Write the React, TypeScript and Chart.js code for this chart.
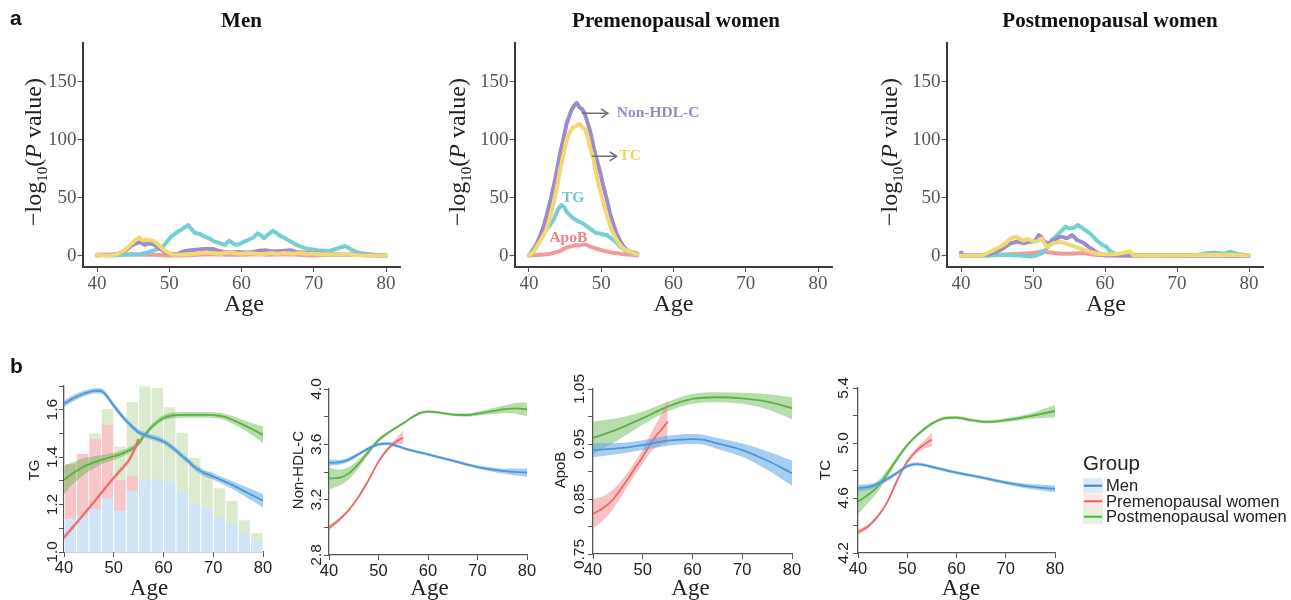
import React, { useEffect, useRef } from 'react';
import { Chart, registerables } from 'chart.js';
Chart.register(...registerables);

const SERIF = "'Liberation Serif','Times New Roman',serif";
const SANS = "'Liberation Sans',Arial,Helvetica,sans-serif";

// ---------------- Panel a: -log10(P) along age ----------------
const ageTicks = [40, 50, 60, 70, 80];
const pTicks = [0, 50, 100, 150];
const panelTitles = ['Men', 'Premenopausal women', 'Postmenopausal women'];
const lipidNames = ['TC', 'Non-HDL-C', 'TG', 'ApoB'];
const lipidColors = ['#f2d873', '#9d8bcb', '#74cfd1', '#f29a9b'];
const lipidTextColors = ['#efd064', '#9a88c9', '#6cc8cb', '#ee8284'];

const menTC = [[40,1],[41,0.5],[42,0.5],[43,2],[43.8,5],[44.5,9],[45.2,13],[45.8,16],[46.3,13.5],[46.8,14],[47.3,13.5],[47.8,13],[48.3,11],[48.8,8],[49.3,5],[49.8,3],[50.5,1],[51.5,1],[52.5,1.5],[53.5,2],[55,3],[56,2.5],[57,2],[58,3],[59,2.5],[60,2],[61,2.5],[62,2],[63,1.5],[64,2.5],[65,2],[66,2.5],[67,2],[68,2.5],[69,2],[70,2],[71,1.5],[72,1.5],[73,1],[75,1],[77,0.5],[78,0.5],[80,0.5]];
const menNonHDL = [[40,1],[42,1],[43,2],[44,5],[44.8,9],[45.5,11],[46,12],[46.6,9.5],[47.2,11],[47.8,10],[48.4,8],[49,5],[49.6,2.5],[50.5,1.5],[51.3,2],[52,4],[53,5],[54,5.5],[55,6],[56,6],[56.8,4.5],[57.5,3.5],[58.5,3],[59.5,3.5],[60.5,3],[61.5,3.5],[62.5,4.5],[63.3,5],[64,4],[65,4],[66,4.5],[66.8,5],[67.5,3.5],[68.5,3],[69.5,2.5],[71,2],[72.5,1.5],[74,1],[76,1],[78,0.5],[80,0.5]];
const menTG = [[40,1],[42,0.5],[44,1],[46,1.5],[47,3],[48,5],[49.1,8],[50.3,17],[51.2,21],[51.7,22.7],[52.6,26.7],[53.5,20.1],[54.2,19],[54.9,16.7],[55.6,15],[56.3,12.4],[57,11],[57.7,9.5],[58.3,13.2],[58.8,11],[59.2,9.5],[59.8,10.5],[60.4,12.4],[61,14],[61.7,16.1],[62.2,19.5],[62.7,18],[63.1,15.2],[63.7,18.5],[64.3,21.8],[64.8,20],[65.4,17.2],[66.1,15],[66.8,12.4],[67.5,10],[68.2,8.1],[68.9,6.5],[69.6,5.8],[70.5,5],[71.4,4.6],[72.3,4.5],[73.3,6.6],[73.8,7.5],[74.3,8.6],[74.8,7],[75.2,5.2],[75.9,3.5],[76.6,2.3],[77.5,1.5],[78.9,0.9],[80,0.5]];
const menApoB = [[40,0.5],[42,1],[43.5,1.5],[45,1.5],[46.5,1],[48,1],[50,0.5],[52,0.5],[54,1],[56,1.5],[58,1],[60,1],[62,1.5],[64,1],[66,1.5],[68,1],[70,0.5],[72,1],[74,1],[76,1.5],[77,2],[78,1],[80,0.5]];

const preTC = [[40,0.5],[40.7,4],[41.5,12.4],[42.4,22.4],[42.9,33],[43.4,45.4],[43.9,60],[44.3,74],[44.8,88],[45.2,100],[45.6,106],[46.1,111],[46.5,112],[47,114],[47.4,111],[47.8,108.6],[48.2,101],[48.5,92.8],[48.9,84],[49.2,74],[49.6,62],[50.1,51],[50.5,41],[51,31],[51.4,23],[51.9,16.7],[52.3,12],[52.8,8],[53.4,5],[54,3.7],[54.5,2.5],[55,1.5]];
const preNonHDL = [[40,0.5],[40.7,5],[41.5,16.7],[42,25],[42.4,33.9],[42.9,46],[43.4,59.8],[43.9,75],[44.3,88.5],[44.8,102],[45.2,114],[45.6,121],[45.9,126],[46.3,130],[46.6,132],[47,128],[47.3,127],[47.7,123],[48,117],[48.4,109],[48.7,101],[49,92],[49.4,82.8],[49.9,71],[50.3,59.8],[50.8,48],[51.2,36.8],[51.7,27],[52.1,19.5],[52.6,13],[53.1,8],[53.6,5],[54,3.7],[54.5,3],[55,2]];
const preTG = [[40,0.5],[40.8,8],[41.4,14],[42,19.5],[42.7,25],[43.4,31],[43.8,37],[44.1,41],[44.5,44],[44.9,42],[45.2,38],[45.7,35],[46.1,32.5],[46.8,30],[47.5,28],[48.1,25],[48.7,22.4],[49.2,20],[49.8,19.5],[50.3,18.5],[50.8,18],[51.2,16],[51.7,13.8],[52.2,11],[52.6,8],[53.1,6],[53.5,3.7],[54.2,2.5],[55,1.5]];
const preApoB = [[40,0.5],[41,0.8],[42,1.2],[43,2],[44,3.5],[44.8,6],[45.5,8],[46,8.5],[46.5,9.5],[47,9],[47.5,10],[48,9.5],[48.5,8],[49,7],[49.5,6],[50,5],[50.7,4],[51.3,3],[52,2.5],[52.8,1.8],[53.5,1.3],[54.3,1],[55,0.5]];

const postTC = [[40,0.5],[42,0.5],[43,0.5],[43.6,2.3],[44.5,5],[45.4,8],[46.2,11],[46.9,15.2],[47.7,16.7],[48.2,14.5],[48.7,13.2],[49.2,14.5],[49.6,13.8],[50.1,12.5],[50.5,12.4],[50.9,14],[51.2,15],[51.6,11],[51.9,8],[52.4,9.5],[52.8,11],[53.3,11.5],[53.7,12.4],[54.4,11],[55.1,9.5],[55.8,8],[56.5,6.6],[57.2,5],[57.9,3.7],[58.6,2.5],[59.3,1.7],[60.5,1.5],[61.6,1.7],[62.5,2.5],[63.5,3.7],[63.9,0.6],[66,0.5],[70,0.5],[74,0.8],[77,1],[80,0.5]];
const postNonHDL = [[40,3],[40.3,1],[42,0.5],[44,1.5],[45.4,5],[46.2,8],[46.9,11],[47.8,12.4],[48.7,11],[49.3,12],[49.9,12.4],[50.4,14],[50.8,18],[51.2,16],[51.5,12.4],[52.2,11],[52.9,13.8],[53.4,15.5],[53.8,16.7],[54.3,16],[54.7,15.2],[55.1,16.5],[55.4,18],[55.8,16],[56.1,13.8],[56.6,12.5],[57.1,11],[57.6,8.5],[58,6.6],[58.5,4.5],[58.9,2.9],[59.8,0.9],[62,0.5],[66,0.5],[70,0.3],[75,0.5],[80,0.3]];
const postTG = [[40,0.5],[44,0.5],[46,1],[48,0.5],[49.7,-0.5],[50.5,0.5],[51.2,2.5],[51.7,5],[52.2,9],[52.6,13.8],[53.2,17],[53.8,20.9],[54.2,23],[54.5,25.3],[55,24],[55.5,24],[55.9,25],[56.2,26.7],[56.6,25],[56.9,24],[57.4,21.5],[57.9,19.5],[58.4,16.5],[58.8,13.8],[59.2,11.5],[59.7,9.5],[60.2,8],[60.6,5],[61,3],[61.5,1.7],[62.5,0.8],[66,0.5],[70,0.5],[73,1],[74,2.3],[75,2.9],[75.7,2.5],[76.4,1.7],[77.4,3.7],[78.4,1.7],[80,0.5]];
const postApoB = [[40,0.3],[43,0.3],[44.5,0.8],[46,1.2],[47.5,1.8],[49,2.2],[50,2.5],[50.8,3.5],[51.3,4],[52,3.2],[53,2.5],[54,2],[55,2],[56,2.2],[57,2.5],[58,1.5],[59,0.8],[60,0.5],[65,0.5],[70,0.5],[75,0.5],[80,0.3]];

// annotation labels in premenopausal panel: [name, age, value]
const preLabels = [['Non-HDL-C', 52.14, 123], ['TC', 52.5, 85.9], ['TG', 46.1, 50.4], ['ApoB', 45.45, 15.9]];
const preArrows = [[47.29, 50.93, 123], [48.68, 52.14, 85.9]];

// ---------------- Panel b: lipid levels by age (mean, half-width of CI) ----------------
const groupNames = ['Men', 'Premenopausal women', 'Postmenopausal women'];
const groupLine = ['#3d82c6', '#e8615f', '#5aae45'];
const groupBand = ['rgba(92,166,228,0.55)', 'rgba(240,118,124,0.45)', 'rgba(98,180,70,0.45)'];
const histColors = ['#cfe4f6', '#f7c6c9', '#dcebd0'];

const tgMen = [[40,1.625,0.015],[42,1.65,0.013],[44,1.668,0.012],[46,1.679,0.012],[47,1.68,0.012],[48,1.672,0.012],[50,1.617,0.012],[52,1.565,0.012],[54,1.523,0.012],[55,1.505,0.012],[57,1.488,0.012],[60,1.466,0.012],[62,1.437,0.012],[64,1.4,0.012],[65,1.383,0.012],[66,1.362,0.012],[68,1.335,0.013],[70,1.318,0.013],[72,1.3,0.014],[74,1.281,0.016],[76,1.259,0.02],[78,1.238,0.024],[80,1.216,0.028]];
const tgPre = [[40,1.062,0.012],[42,1.11,0.01],[44,1.16,0.01],[46,1.21,0.01],[48,1.262,0.01],[50,1.313,0.01],[52,1.36,0.012],[53,1.385,0.013],[54,1.425,0.016],[55,1.477,0.02]];
const tgPost = [[40,1.305,0.06],[42,1.335,0.045],[44,1.36,0.035],[46,1.378,0.025],[48,1.392,0.018],[50,1.403,0.015],[52,1.418,0.013],[54,1.44,0.012],[55,1.458,0.012],[56,1.488,0.012],[57,1.512,0.012],[58,1.535,0.012],[60,1.565,0.012],[62,1.576,0.012],[65,1.578,0.012],[68,1.578,0.012],[70,1.577,0.012],[72,1.572,0.013],[74,1.556,0.016],[76,1.537,0.02],[78,1.516,0.026],[80,1.494,0.035]];

const nhMen = [[40,3.467,0.022],[42,3.47,0.018],[44,3.49,0.015],[46,3.53,0.012],[48,3.571,0.012],[50,3.6,0.012],[52,3.605,0.012],[54,3.585,0.01],[56,3.562,0.01],[60,3.528,0.01],[65,3.482,0.01],[70,3.436,0.012],[75,3.408,0.018],[80,3.395,0.03]];
const nhPre = [[40,2.998,0.02],[42,3.053,0.015],[44,3.125,0.013],[46,3.222,0.012],[48,3.342,0.012],[50,3.475,0.012],[52,3.571,0.015],[54,3.63,0.03],[55,3.648,0.05]];
const nhPost = [[40,3.354,0.08],[42,3.358,0.06],[44,3.39,0.045],[46,3.46,0.03],[48,3.547,0.02],[50,3.63,0.015],[52,3.685,0.012],[55,3.752,0.01],[58,3.82,0.01],[60,3.836,0.01],[62,3.831,0.01],[65,3.815,0.01],[68,3.812,0.012],[70,3.822,0.015],[73,3.84,0.02],[76,3.856,0.03],[78,3.86,0.04],[80,3.853,0.05]];

const apoMen = [[40,0.939,0.013],[45,0.942,0.01],[50,0.948,0.009],[55,0.956,0.009],[60,0.959,0.009],[62,0.958,0.009],[65,0.951,0.01],[70,0.939,0.012],[75,0.92,0.017],[80,0.897,0.023]];
const apoPre = [[40,0.823,0.027],[42,0.833,0.022],[44,0.849,0.018],[46,0.873,0.014],[48,0.9,0.012],[50,0.927,0.013],[52,0.957,0.018],[54,0.979,0.03],[55,0.991,0.04]];
const apoPost = [[40,0.961,0.03],[45,0.977,0.02],[50,0.997,0.012],[55,1.018,0.009],[60,1.032,0.009],[65,1.035,0.009],[70,1.033,0.01],[75,1.027,0.014],[80,1.015,0.02]];

const tcMen = [[40,4.671,0.025],[43,4.688,0.02],[45,4.72,0.017],[48,4.784,0.015],[50,4.832,0.013],[52,4.846,0.012],[55,4.827,0.012],[60,4.784,0.012],[65,4.75,0.012],[70,4.712,0.013],[75,4.683,0.018],[80,4.666,0.025]];
const tcPre = [[40,4.35,0.02],[42,4.393,0.015],[44,4.466,0.013],[46,4.574,0.013],[48,4.731,0.013],[50,4.864,0.015],[52,4.948,0.02],[54,5.001,0.035],[55,5.026,0.05]];
const tcPost = [[40,4.574,0.09],[42,4.622,0.06],[44,4.683,0.04],[46,4.779,0.03],[48,4.888,0.02],[50,4.985,0.015],[52,5.057,0.013],[55,5.141,0.012],[58,5.183,0.012],[60,5.185,0.012],[63,5.166,0.012],[66,5.154,0.012],[70,5.166,0.014],[75,5.195,0.02],[80,5.233,0.045]];

// age histogram (bin centres, bar tops on TG axis)
const histBins = [41.25, 43.75, 46.25, 48.75, 51.25, 53.75, 56.25, 58.75, 61.25, 63.75, 66.25, 68.75, 71.25, 73.75, 76.25, 78.75];
const histMen = [1.139, 1.154, 1.182, 1.227, 1.173, 1.259, 1.3, 1.307, 1.294, 1.252, 1.203, 1.185, 1.142, 1.117, 1.079, 1.044];
const histPre = [1.37, 1.413, 1.477, 1.537, 1.304, 1.321];
const histPost = [1.25, 1.41, 1.5, 1.603, 1.445, 1.632, 1.699, 1.692, 1.61, 1.504, 1.396, 1.34, 1.269, 1.215, 1.134, 1.079];

const tgTicks = [1.0, 1.1, 1.2, 1.3, 1.4, 1.5, 1.6, 1.7];
const tgLabels = [1.0, 1.2, 1.4, 1.6];
const nhTicks = [2.8, 3.0, 3.2, 3.4, 3.6, 3.8, 4.0];
const nhLabels = [2.8, 3.2, 3.6, 4.0];
const apoTicks = [0.75, 0.8, 0.85, 0.9, 0.95, 1.0, 1.05];
const apoLabels = [0.75, 0.85, 0.95, 1.05];
const tcTicks = [4.2, 4.4, 4.6, 4.8, 5.0, 5.2, 5.4];
const tcLabels = [4.2, 4.6, 5.0, 5.4];

// ---------------- helpers ----------------
type Box = [number, number, number, number];

function axis(o: any) {
  return {
    type: 'linear', min: o.min, max: o.max, offset: false,
    afterBuildTicks: (s: any) => { s.ticks = o.ticks.map((v: number) => ({ value: v })); },
    afterFit: (s: any) => { if (o.horizontal) s.height = o.size; else s.width = o.size; },
    ticks: { display: o.labels, font: o.font, color: o.color, padding: o.pad, autoSkip: false, maxRotation: 0, minRotation: 0, callback: (v: any) => String(v) },
    grid: { display: true, offset: false, drawOnChartArea: false, drawTicks: true, tickLength: o.tickLen, tickColor: o.tickColor, tickWidth: 1, color: o.tickColor },
    border: { display: true, color: o.lineColor, width: o.lineWidth },
  };
}

function txt(ctx: CanvasRenderingContext2D, s: string, x: number, y: number, font: string, color: string, align: CanvasTextAlign = 'center', base: CanvasTextBaseline = 'alphabetic', rot = 0) {
  ctx.save();
  ctx.translate(x, y);
  ctx.rotate(rot);
  ctx.font = font; ctx.fillStyle = color; ctx.textAlign = align; ctx.textBaseline = base;
  ctx.fillText(s, 0, 0);
  ctx.restore();
}

function rich(ctx: CanvasRenderingContext2D, parts: any[], x: number, y: number, rot: number) {
  ctx.save();
  ctx.translate(x, y); ctx.rotate(rot);
  ctx.textAlign = 'left'; ctx.textBaseline = 'alphabetic';
  let w = 0;
  parts.forEach((p) => { ctx.font = p.font; w += ctx.measureText(p.t).width; });
  let cx = -w / 2;
  parts.forEach((p) => { ctx.font = p.font; ctx.fillStyle = p.color; ctx.fillText(p.t, cx, p.dy || 0); cx += ctx.measureText(p.t).width; });
  ctx.restore();
}

function pts(a: number[][]) { return a.map((p) => ({ x: p[0], y: p[1] })); }

function layoutFor(box: Box, area: number[]) {
  return { padding: { left: 0, top: area[1] - box[1], right: box[0] + box[2] - area[2], bottom: 0 } };
}

// ---------------- top panels ----------------
const topBoxes: Box[] = [[0, 0, 430, 330], [430, 0, 430, 330], [860, 0, 431, 330]];
const topAreas = [[82.55, 43, 400.45, 267], [514.55, 43, 832.45, 267], [946.6, 43, 1263.4, 267]];
const topTitleX = [241.5, 676, 1110];
const topAgeX = [244, 673.5, 1106];
const topYTitleX = [41, 465, 897];
const topSeries = [[menTC, menNonHDL, menTG, menApoB], [preTC, preNonHDL, preTG, preApoB], [postTC, postNonHDL, postTG, postApoB]];

function topConfig(i: number) {
  const box = topBoxes[i], area = topAreas[i];
  const ox = box[0], oy = box[1];
  const tickFont = { family: SERIF, size: 19 };
  const decor = {
    id: 'decor' + i,
    afterDraw(chart: any) {
      const ctx = chart.ctx as CanvasRenderingContext2D;
      if (i === 0) txt(ctx, 'a', 10 - ox, 25 - oy, `bold 21px ${SANS}`, '#111', 'left');
      txt(ctx, panelTitles[i], topTitleX[i] - ox, 27 - oy, `bold 21px ${SERIF}`, '#111');
      txt(ctx, 'Age', topAgeX[i] - ox, 311 - oy, `24px ${SERIF}`, '#222');
      rich(ctx, [
        { t: '\u2212log', font: `24px ${SERIF}`, color: '#222' },
        { t: '10', font: `15px ${SERIF}`, color: '#222', dy: 6 },
        { t: '(', font: `24px ${SERIF}`, color: '#222' },
        { t: 'P', font: `italic 24px ${SERIF}`, color: '#222' },
        { t: ' value)', font: `24px ${SERIF}`, color: '#222' },
      ], topYTitleX[i] - ox, 152 - oy, -Math.PI / 2);
      if (i === 1) {
        const xs = chart.scales.x, ys = chart.scales.y;
        ctx.save();
        ctx.strokeStyle = '#707070'; ctx.lineWidth = 1.5;
        preArrows.forEach((a) => {
          const x1 = xs.getPixelForValue(a[0]), x2 = xs.getPixelForValue(a[1]), y = ys.getPixelForValue(a[2]);
          ctx.beginPath(); ctx.moveTo(x1, y); ctx.lineTo(x2, y);
          ctx.moveTo(x2 - 7, y - 4.5); ctx.lineTo(x2, y); ctx.lineTo(x2 - 7, y + 4.5);
          ctx.stroke();
        });
        ctx.restore();
        preLabels.forEach((l, k) => {
          const name = l[0] as string;
          const col = lipidTextColors[lipidNames.indexOf(name)];
          const x = xs.getPixelForValue(l[1] as number), y = ys.getPixelForValue(l[2] as number);
          txt(ctx, name, x, y, `bold 15.5px ${SERIF}`, col, k < 2 ? 'left' : 'center', 'middle');
        });
      }
    },
  };
  return {
    type: 'line',
    data: {
      datasets: topSeries[i].map((s, k) => ({
        label: lipidNames[k], data: pts(s), borderColor: lipidColors[k], borderWidth: 4,
        pointRadius: 0, tension: 0, fill: false, borderJoinStyle: 'round', borderCapStyle: 'round',
      })),
    },
    options: {
      responsive: false, animation: false, devicePixelRatio: 1,
      layout: layoutFor(box, area),
      plugins: { legend: { display: false }, tooltip: { enabled: false } },
      scales: {
        x: axis({ min: 38, max: 82, ticks: ageTicks, horizontal: true, size: box[1] + box[3] - area[3], labels: true, font: tickFont, color: '#555', pad: 1, tickLen: 5, tickColor: '#555', lineColor: '#3a3a3a', lineWidth: 2 }),
        y: axis({ min: -9.5, max: 183.6, ticks: pTicks, horizontal: false, size: area[0] - box[0], labels: true, font: tickFont, color: '#555', pad: 1, tickLen: 5, tickColor: '#555', lineColor: '#3a3a3a', lineWidth: 2 }),
      },
    },
    plugins: [decor],
  };
}

// ---------------- bottom panels ----------------
const botSpecs = [
  { box: [0, 340, 290, 260] as Box, area: [64, 386, 263, 552], y: [1.0, 1.7], ticks: tgTicks, labels: tgLabels, dec: 1, title: 'TG', titleX: 35, off: 11.5, ageX: 149, series: [tgMen, tgPre, tgPost], hist: true },
  { box: [280, 340, 270, 260] as Box, area: [329, 389, 527, 555], y: [2.8, 4.0], ticks: nhTicks, labels: nhLabels, dec: 1, title: 'Non-HDL-C', titleX: 298.5, off: 12.5, ageX: 429.5, series: [nhMen, nhPre, nhPost], hist: false },
  { box: [545, 340, 270, 260] as Box, area: [593, 389, 792, 554], y: [0.75, 1.05], ticks: apoTicks, labels: apoLabels, dec: 2, title: 'ApoB', titleX: 561, off: 13, ageX: 690.5, series: [apoMen, apoPre, apoPost], hist: false },
  { box: [810, 340, 481, 260] as Box, area: [858, 388, 1055, 553], y: [4.2, 5.4], ticks: tcTicks, labels: tcLabels, dec: 1, title: 'TC', titleX: 826, off: 14.5, ageX: 961, series: [tcMen, tcPre, tcPost], hist: false, legend: true },
];

function botConfig(j: number) {
  const sp = botSpecs[j];
  const box = sp.box, area = sp.area;
  const ox = box[0], oy = box[1];
  const datasets: any[] = [];
  sp.series.forEach((s, g) => {
    const common = { pointRadius: 0, cubicInterpolationMode: 'monotone', borderJoinStyle: 'round' };
    datasets.push({ ...common, data: s.map((p) => ({ x: p[0], y: p[1] + p[2] })), borderWidth: 0, borderColor: 'rgba(0,0,0,0)', backgroundColor: groupBand[g], fill: '+1' });
    datasets.push({ ...common, data: s.map((p) => ({ x: p[0], y: p[1] - p[2] })), borderWidth: 0, borderColor: 'rgba(0,0,0,0)', fill: false });
    datasets.push({ ...common, data: s.map((p) => ({ x: p[0], y: p[1] })), borderWidth: 1.8, borderColor: groupLine[g], fill: false });
  });
  if (sp.hist) {
    [histMen, histPre, histPost].forEach((h, g) => {
      datasets.push({
        type: 'bar', data: h.map((v, k) => ({ x: histBins[k], y: [sp.y[0], v] })),
        backgroundColor: histColors[g], borderColor: 'rgba(255,255,255,0.95)',
        borderWidth: { left: 0.8, right: 0.8, top: 0, bottom: 0 }, borderSkipped: false,
        grouped: false, barPercentage: 1, categoryPercentage: 1,
      });
    });
  }
  const decor = {
    id: 'bdecor' + j,
    afterDraw(chart: any) {
      const ctx = chart.ctx as CanvasRenderingContext2D;
      const ys = chart.scales.y;
      if (j === 0) txt(ctx, 'b', 10 - ox, 373 - oy, `bold 21px ${SANS}`, '#111', 'left');
      sp.labels.forEach((v) => {
        txt(ctx, v.toFixed(sp.dec), area[0] - sp.off - ox, ys.getPixelForValue(v), `15.5px ${SANS}`, '#222', 'center', 'middle', -Math.PI / 2);
      });
      txt(ctx, sp.title, sp.titleX - ox, 470 - oy, `15px ${SANS}`, '#222', 'center', 'middle', -Math.PI / 2);
      txt(ctx, 'Age', sp.ageX - ox, 595 - oy, `23px ${SERIF}`, '#222');
      if (sp.legend) {
        txt(ctx, 'Group', 1083 - ox, 470 - oy, `20.5px ${SANS}`, '#222', 'left');
        const rows = [485.7, 501.3, 516.7];
        groupNames.forEach((n, g) => {
          const cy = rows[g] - oy;
          ctx.save();
          ctx.fillStyle = groupBand[g]; ctx.globalAlpha = 0.4;
          ctx.fillRect(1083 - ox, cy - 7.5, 20, 15);
          ctx.globalAlpha = 1;
          ctx.strokeStyle = groupLine[g]; ctx.lineWidth = 2;
          ctx.beginPath(); ctx.moveTo(1084 - ox, cy); ctx.lineTo(1102 - ox, cy); ctx.stroke();
          ctx.restore();
          txt(ctx, n, 1106 - ox, cy + 1, `16.5px ${SANS}`, '#222', 'left', 'middle');
        });
      }
    },
  };
  return {
    type: 'line',
    data: { datasets },
    options: {
      responsive: false, animation: false, devicePixelRatio: 1,
      layout: layoutFor(box, area),
      plugins: { legend: { display: false }, tooltip: { enabled: false } },
      scales: {
        x: axis({ min: 40, max: 80, ticks: ageTicks, horizontal: true, size: box[1] + box[3] - area[3], labels: true, font: { family: SANS, size: 16.5 }, color: '#222', pad: 2, tickLen: 5, tickColor: '#555', lineColor: '#555', lineWidth: 1.3 }),
        y: axis({ min: sp.y[0], max: sp.y[1], ticks: sp.ticks, horizontal: false, size: area[0] - box[0], labels: false, font: { family: SANS, size: 15 }, color: '#222', pad: 2, tickLen: 5, tickColor: '#555', lineColor: '#555', lineWidth: 1.3 }),
      },
    },
    plugins: [decor],
  };
}

function ChartCanvas({ box, make }: { box: Box; make: () => any }) {
  const ref = useRef<HTMLCanvasElement>(null);
  useEffect(() => {
    const c = new Chart(ref.current as HTMLCanvasElement, make());
    return () => c.destroy();
  }, []);
  return (
    <canvas ref={ref} width={box[2]} height={box[3]}
      style={{ position: 'absolute', left: box[0], top: box[1], width: box[2], height: box[3] }} />
  );
}

export default function App() {
  return (
    <div style={{ position: 'absolute', left: 0, top: 0, width: 1291, height: 600, background: '#fff', overflow: 'hidden' }}>
      {topBoxes.map((b, i) => <ChartCanvas key={'t' + i} box={b} make={() => topConfig(i)} />)}
      {botSpecs.map((s, j) => <ChartCanvas key={'b' + j} box={s.box} make={() => botConfig(j)} />)}
    </div>
  );
}
